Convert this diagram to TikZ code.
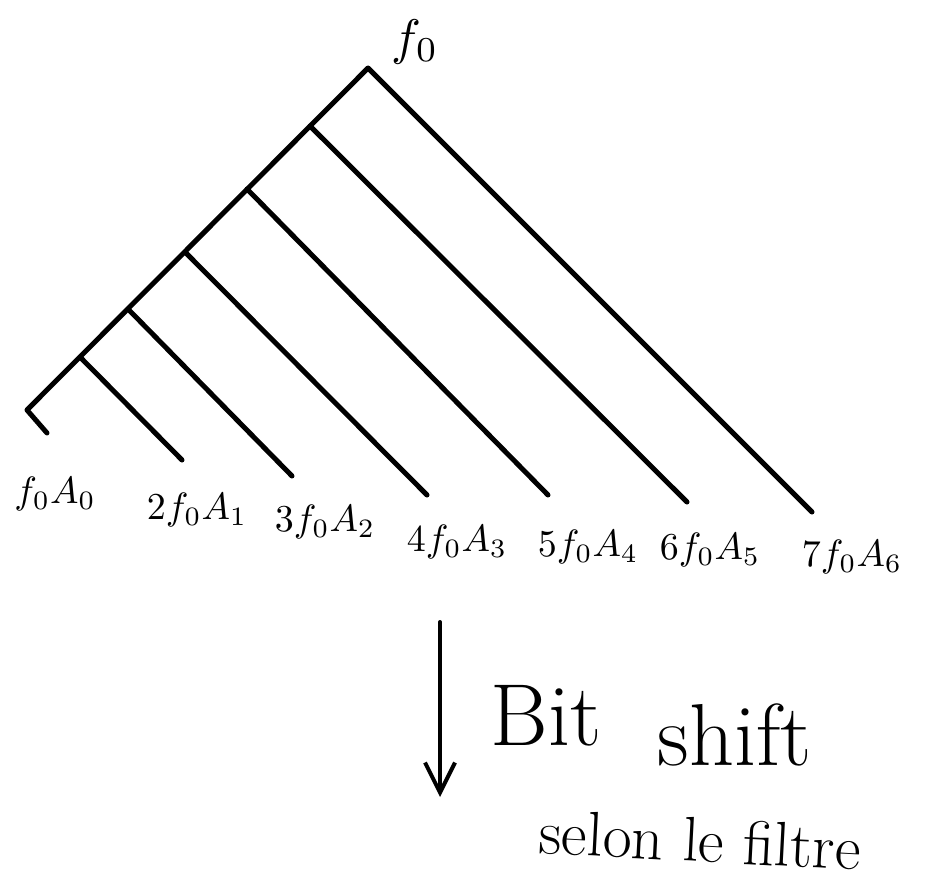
\documentclass[tikz,border=0pt]{standalone}
\usetikzlibrary{arrows.meta}
\begin{document}
\begin{tikzpicture}[x=1pt,y=-1pt,line width=5pt,line cap=round,line join=round,
  lbl/.style={scale=3.8,inner sep=0pt},
  big/.style={font=\fontsize{88}{92}\selectfont,inner sep=0pt},
  mid/.style={font=\fontsize{63}{66}\selectfont,inner sep=0pt}]
\useasboundingbox (0,0) rectangle (929,883);
% tree
\coordinate (apex) at (368,68);
\coordinate (corner) at (27,410);
\coordinate (tick) at (47,433);
\coordinate (p5) at (310,126);
\coordinate (p4) at (247,189);
\coordinate (p3) at (185,252);
\coordinate (p2) at (128,309);
\coordinate (p1) at (80,357);
\coordinate (e1) at (182,460);
\coordinate (e2) at (292,476);
\coordinate (e3) at (427,495);
\coordinate (e4) at (548,495);
\coordinate (e5) at (687,502);
\coordinate (e6) at (812,512);
\draw (tick) -- (corner) -- (apex) -- (e6);
\draw (p1) -- (e1);
\draw (p2) -- (e2);
\draw (p3) -- (e3);
\draw (p4) -- (e4);
\draw (p5) -- (e5);
% labels
\node[scale=5,inner sep=0pt] (top) at (415,42) {$f_0$};
\node[lbl] (l0) at (55,494) {$f_0A_0$};
\node[lbl] (l1) at (197,510) {$2f_0A_1$};
\node[lbl] (l2) at (325,522) {$3f_0A_2$};
\node[lbl] (l3) at (457,542) {$4f_0A_3$};
\node[lbl] (l4) at (588,547) {$5f_0A_4$};
\node[lbl] (l5) at (710,550) {$6f_0A_5$};
\node[lbl] (l6) at (852,557) {$7f_0A_6$};
% arrow
\coordinate (as) at (440,622);
\coordinate (ae) at (440,797);
\draw[line width=4pt,-{Straight Barb[length=30pt,width=30pt,line width=4pt]}] (as) -- (ae);
\node[big,anchor=base west] (bit) at (488,745) {Bit};
\node[big,anchor=base west] (shift) at (655,765) {shift};
\node[mid,rotate=-3] (selon) at (700,840) {selon le filtre};
\end{tikzpicture}
\end{document}
